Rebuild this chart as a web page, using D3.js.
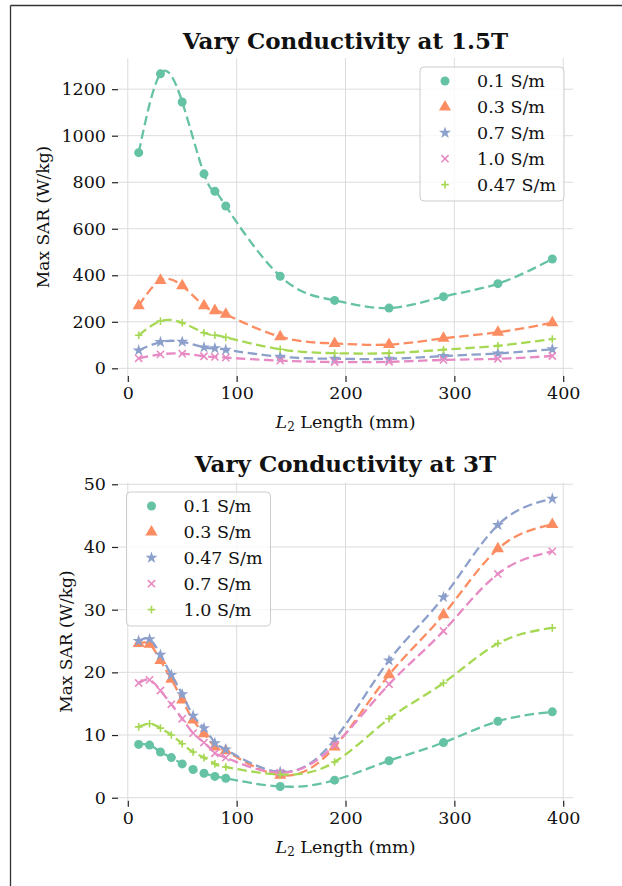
<!DOCTYPE html>
<html>
<head>
<meta charset="utf-8">
<script src="https://cdn.jsdelivr.net/npm/d3@7"></script>
<style>
  html, body { margin: 0; padding: 0; background: #fff; }
  svg { display: block; }
  text { font-family: "DejaVu Serif", serif; fill: #111; }
</style>
</head>
<body>
<svg id="chart" width="622" height="886"></svg>
<script>
// ---------- DATA ----------
// 1.5 T panel
const x15 = [10, 30, 50, 70, 80, 90, 140, 190, 240, 290, 340, 390];
const labels15 = ["0.1 S/m", "0.3 S/m", "0.7 S/m", "1.0 S/m", "0.47 S/m"];
const sar15_01  = [927, 1266, 1145, 836, 761, 698, 396, 292, 259, 308, 364, 470];
const sar15_03  = [269, 378, 355, 269, 248, 232, 136, 107, 102, 129, 155, 196];
const sar15_07  = [77, 113, 114, 90, 86, 80, 50, 41, 41, 53, 64, 82];
const sar15_10  = [43, 60, 63, 52, 49, 46, 33, 27, 28, 36, 41, 53];
const sar15_047 = [142, 203, 196, 153, 142, 133, 82, 65, 65, 80, 97, 126];
const yTicks15 = [0, 200, 400, 600, 800, 1000, 1200];

// 3 T panel
const x3 = [10, 20, 30, 40, 50, 60, 70, 80, 90, 140, 190, 240, 290, 340, 390];
const labels3 = ["0.1 S/m", "0.3 S/m", "0.47 S/m", "0.7 S/m", "1.0 S/m"];
const sar3_01  = [8.5, 8.4, 7.3, 6.4, 5.4, 4.5, 3.9, 3.4, 3.1, 1.8, 2.8, 5.9, 8.8, 12.2, 13.7];
const sar3_03  = [24.6, 24.5, 21.9, 18.9, 15.6, 12.4, 10.2, 8.1, 7.5, 3.6, 8.1, 19.6, 29.2, 39.7, 43.6];
const sar3_047 = [25.0, 25.3, 22.8, 19.6, 16.5, 13.1, 11.1, 8.7, 7.7, 4.1, 9.3, 21.9, 32.0, 43.5, 47.7];
const sar3_07  = [18.3, 18.8, 17.1, 14.9, 12.6, 10.3, 8.8, 7.1, 6.4, 4.0, 8.4, 18.1, 26.6, 35.7, 39.3];
const sar3_10  = [11.3, 11.8, 11.1, 10.0, 8.6, 7.3, 6.4, 5.4, 4.9, 3.7, 5.7, 12.6, 18.3, 24.6, 27.1];
const yTicks3 = [0, 10, 20, 30, 40, 50];

const xTicks = [0, 100, 200, 300, 400];
const colors = ["#66c2a5", "#fc8d62", "#8da0cb", "#e78ac3", "#a6d854"];
const shapes = ["circle", "triangle", "star", "x", "plus"];

// ---------- DRAW ----------
const svg = d3.select("#chart");

// figure border (top & left visible)
svg.append("line").attr("x1", 10.5).attr("x2", 622).attr("y1", 5.5).attr("y2", 5.5)
  .attr("stroke", "#333").attr("stroke-width", 1.3);
svg.append("line").attr("x1", 10.5).attr("x2", 10.5).attr("y1", 5.5).attr("y2", 886)
  .attr("stroke", "#333").attr("stroke-width", 1.3);

function marker(g, shape, color) {
  if (shape === "circle") {
    g.append("circle").attr("r", 4.5).attr("fill", color);
  } else if (shape === "triangle") {
    g.append("path").attr("d", d3.symbol(d3.symbolTriangle, 64)()).attr("fill", color);
  } else if (shape === "star") {
    g.append("path").attr("d", d3.symbol(d3.symbolStar, 46)()).attr("fill", color);
  } else if (shape === "x") {
    const s = 3.6;
    g.append("path").attr("d", `M${-s},${-s}L${s},${s}M${-s},${s}L${s},${-s}`)
      .attr("stroke", color).attr("stroke-width", 1.6).attr("fill", "none");
  } else if (shape === "plus") {
    const s = 3.8;
    g.append("path").attr("d", `M${-s},0L${s},0M0,${-s}L0,${s}`)
      .attr("stroke", color).attr("stroke-width", 1.6).attr("fill", "none");
  }
}

function panel(opts) {
  const { top, bottom, left, right, xDomain, yDomain, yTicks, xs, series, labels,
          title, titleY, legend, ylabelX, xlabelY } = opts;
  const g = svg.append("g");
  const x = d3.scaleLinear().domain(xDomain).range([left, right]);
  const y = d3.scaleLinear().domain(yDomain).range([bottom, top]);

  // grid
  g.append("g").selectAll("line").data(xTicks).join("line")
    .attr("x1", d => x(d)).attr("x2", d => x(d)).attr("y1", top).attr("y2", bottom)
    .attr("stroke", "#dcdcdc").attr("stroke-width", 1);
  g.append("g").selectAll("line").data(yTicks).join("line")
    .attr("x1", left).attr("x2", right).attr("y1", d => y(d)).attr("y2", d => y(d))
    .attr("stroke", "#dcdcdc").attr("stroke-width", 1);

  // axes (ticks only, no spines)
  const xAxis = g.append("g").attr("transform", `translate(0,${bottom})`)
    .call(d3.axisBottom(x).tickValues(xTicks).tickSize(6).tickPadding(5).tickFormat(d3.format("d")));
  const yAxis = g.append("g").attr("transform", `translate(${left},0)`)
    .call(d3.axisLeft(y).tickValues(yTicks).tickSize(6).tickPadding(6).tickFormat(d3.format("d")));
  [xAxis, yAxis].forEach(a => {
    a.select(".domain").remove();
    a.selectAll(".tick line").attr("stroke", "#222").attr("stroke-width", 1.2);
    a.selectAll(".tick text").attr("font-family", "DejaVu Serif").attr("font-size", 17.5).attr("fill", "#111");
  });

  // series: dashed smooth lines + markers
  const line = d3.line().x(d => x(d[0])).y(d => y(d[1])).curve(d3.curveNatural);
  series.forEach((vals, i) => {
    const pts = xs.map((xv, j) => [xv, vals[j]]);
    g.append("path").attr("d", line(pts)).attr("fill", "none")
      .attr("stroke", colors[i]).attr("stroke-width", 2.3).attr("stroke-dasharray", "9.5,4.5");
    pts.forEach(p => {
      const m = g.append("g").attr("transform", `translate(${x(p[0])},${y(p[1])})`);
      marker(m, shapes[i], colors[i]);
    });
  });

  // title
  svg.append("text").attr("x", (left + right) / 2).attr("y", titleY)
    .attr("text-anchor", "middle").attr("font-size", 23).attr("font-weight", "bold")
    .text(title);

  // x label
  const xl = svg.append("text").attr("x", (left + right) / 2).attr("y", xlabelY)
    .attr("text-anchor", "middle").attr("font-size", 17.5);
  xl.append("tspan").attr("font-style", "italic").text("L");
  xl.append("tspan").attr("font-size", 12).attr("dy", 3).text("2");
  xl.append("tspan").attr("dy", -3).text(" Length (mm)");

  // y label
  svg.append("text").attr("transform", `translate(${ylabelX},${(top + bottom) / 2}) rotate(-90)`)
    .attr("text-anchor", "middle").attr("font-size", 17).text("Max SAR (W/kg)");

  // legend
  const lg = svg.append("g");
  lg.append("rect").attr("x", legend.x).attr("y", legend.y).attr("width", legend.w).attr("height", legend.h)
    .attr("rx", 4).attr("fill", "#fff").attr("fill-opacity", 0.8)
    .attr("stroke", "#cccccc").attr("stroke-width", 1);
  labels.forEach((lab, i) => {
    const cy = legend.y + 14 + i * 25.9;
    const m = lg.append("g").attr("transform", `translate(${legend.x + 25},${cy})`);
    marker(m, shapes[i], colors[i]);
    lg.append("text").attr("x", legend.x + 57).attr("y", cy + 6)
      .attr("font-size", 17.5).text(lab);
  });
}

panel({
  top: 58, bottom: 376, left: 118, right: 573,
  xDomain: [-9, 409], yDomain: [-33, 1334], yTicks: yTicks15,
  xs: x15, series: [sar15_01, sar15_03, sar15_07, sar15_10, sar15_047], labels: labels15,
  title: "Vary Conductivity at 1.5T", titleY: 49,
  legend: { x: 420, y: 67, w: 144, h: 134 },
  ylabelX: 49, xlabelY: 428
});

panel({
  top: 482.4, bottom: 800.8, left: 118, right: 573,
  xDomain: [-9, 409], yDomain: [-0.49, 50.3], yTicks: yTicks3,
  xs: x3, series: [sar3_01, sar3_03, sar3_047, sar3_07, sar3_10], labels: labels3,
  title: "Vary Conductivity at 3T", titleY: 472,
  legend: { x: 126.5, y: 492, w: 144, h: 134 },
  ylabelX: 72, xlabelY: 853
});
</script>
</body>
</html>
